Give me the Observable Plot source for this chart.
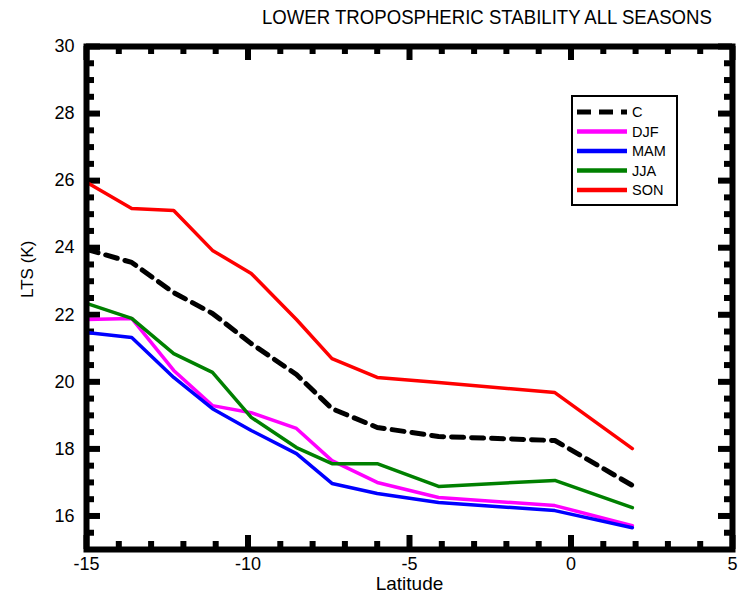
<!DOCTYPE html>
<html>
<head>
<meta charset="utf-8">
<script src="https://cdn.jsdelivr.net/npm/d3@7"></script>
<script src="https://cdn.jsdelivr.net/npm/@observablehq/plot@0.6"></script>
<style>
  body { margin: 0; background: #fff; font-family: Arial, "Liberation Sans", sans-serif; }
  #wrap { width: 743px; height: 603px; position: relative; overflow: hidden; }
  #title { height: 30px; box-sizing: border-box; padding-top: 7px; padding-left: 262px;
           font-size: 18.6px; line-height: 20px; white-space: nowrap; color: #000;
           transform: scaleY(1.12); transform-origin: 0 50%; }
</style>
</head>
<body>
<div id="wrap">
  <div id="title">LOWER TROPOSPHERIC STABILITY ALL SEASONS</div>
  <div id="chart"></div>
</div>
<script>
// Latitude of each sample and lower tropospheric stability (K) per season
const latitude = [-15, -13.6, -12.3, -11.1, -9.9, -8.5, -7.4, -6.0, -4.1, -0.5, 1.9];
const ltsC   = [23.95, 23.56, 22.66, 22.04, 21.14, 20.22, 19.20, 18.64, 18.37, 18.25, 16.91];
const ltsDJF = [21.86, 21.89, 20.34, 19.29, 19.08, 18.61, 17.65, 17.00, 16.55, 16.31, 15.71];
const ltsMAM = [21.47, 21.32, 20.13, 19.20, 18.55, 17.86, 16.97, 16.67, 16.40, 16.16, 15.65];
const ltsJJA = [22.34, 21.89, 20.84, 20.28, 18.94, 18.04, 17.56, 17.56, 16.88, 17.06, 16.25];
const ltsSON = [25.95, 25.17, 25.11, 23.92, 23.23, 21.86, 20.69, 20.13, 19.98, 19.68, 18.01];

const seriesNames  = ["C", "DJF", "MAM", "JJA", "SON"];
const seriesColors = ["#000000", "#ff00ff", "#0000ff", "#008000", "#ff0000"];

const xMajor = [-15, -10, -5, 0, 5];
const xMinor = d3.range(-14, 5, 1).filter(v => v % 5 !== 0);
const yMajor = [16, 18, 20, 22, 24, 26, 28, 30];
const yMinor = d3.range(15.5, 30, 0.5).filter(v => v % 2 !== 0);

const W = 743, H = 573;
const mL = 86, mR = 11, mT = 16, mB = 54;
const innerW = W - mL - mR, innerH = H - mT - mB;
const majorLen = 14, minorLen = 8, tickW = 6;

const rows = (values) => latitude.map((lat, i) => ({lat, v: values[i]}));
const line = (values, color, extra = {}) =>
  Plot.line(rows(values), {x: "lat", y: "v", stroke: color, strokeWidth: 3.5, ...extra});

const chart = Plot.plot({
  width: W, height: H,
  marginLeft: mL, marginRight: mR, marginTop: mT, marginBottom: mB,
  style: {fontFamily: "Arial, 'Liberation Sans', sans-serif", fontSize: "18px", color: "#000", background: "#fff"},
  x: {domain: [-15, 5], ticks: xMajor, tickSize: 0, tickPadding: 8, tickFormat: d => String(d), label: null},
  y: {domain: [15, 30], ticks: yMajor, tickSize: 0, tickPadding: 12, tickFormat: d => String(d), label: null},
  marks: [
    // inward ticks on all four sides
    Plot.tickX(xMajor, {x: d => d, stroke: "#000", strokeWidth: tickW, insetTop: innerH - majorLen}),
    Plot.tickX(xMinor, {x: d => d, stroke: "#000", strokeWidth: tickW, insetTop: innerH - minorLen}),
    Plot.tickX(xMajor, {x: d => d, stroke: "#000", strokeWidth: tickW, insetBottom: innerH - majorLen}),
    Plot.tickX(xMinor, {x: d => d, stroke: "#000", strokeWidth: tickW, insetBottom: innerH - minorLen}),
    Plot.tickY(yMajor, {y: d => d, stroke: "#000", strokeWidth: tickW, insetRight: innerW - majorLen}),
    Plot.tickY(yMinor, {y: d => d, stroke: "#000", strokeWidth: tickW, insetRight: innerW - minorLen}),
    Plot.tickY(yMajor, {y: d => d, stroke: "#000", strokeWidth: tickW, insetLeft: innerW - majorLen}),
    Plot.tickY(yMinor, {y: d => d, stroke: "#000", strokeWidth: tickW, insetLeft: innerW - minorLen}),
    // seasonal curves and the dashed climatology
    line(ltsDJF, seriesColors[1]),
    line(ltsMAM, seriesColors[2]),
    line(ltsJJA, seriesColors[3]),
    line(ltsSON, seriesColors[4]),
    line(ltsC, seriesColors[0], {strokeWidth: 5, strokeDasharray: "12,8"}),
    Plot.frame({stroke: "#000", strokeWidth: 6}),
    Plot.text(["Latitude"], {frameAnchor: "bottom", dy: 40, fontSize: 19, fill: "#000"}),
    Plot.text(["LTS (K)"], {frameAnchor: "left", dx: -59, rotate: -90, fontSize: 17, fill: "#000"})
  ]
});

document.getElementById("chart").appendChild(chart);

// Legend box in the upper right of the plotting area
const svg = d3.select(chart);
const lg = svg.append("g").attr("transform", `translate(572, ${96 - 30})`)
  .attr("text-anchor", "start");
lg.append("rect").attr("x", 0).attr("y", 0).attr("width", 105).attr("height", 109)
  .attr("fill", "#fff").attr("stroke", "#000").attr("stroke-width", 2);
seriesNames.forEach((name, i) => {
  const y = 16 + i * 19.5;
  lg.append("line").attr("x1", 5).attr("x2", 55).attr("y1", y).attr("y2", y)
    .attr("stroke", seriesColors[i]).attr("stroke-width", i === 0 ? 5 : 4.5)
    .attr("stroke-dasharray", i === 0 ? "14,8" : null);
  lg.append("text").attr("x", 60).attr("y", y).attr("dy", "0.36em")
    .attr("text-anchor", "start")
    .attr("font-size", 14.5).attr("fill", "#000").text(name);
});
</script>
</body>
</html>
